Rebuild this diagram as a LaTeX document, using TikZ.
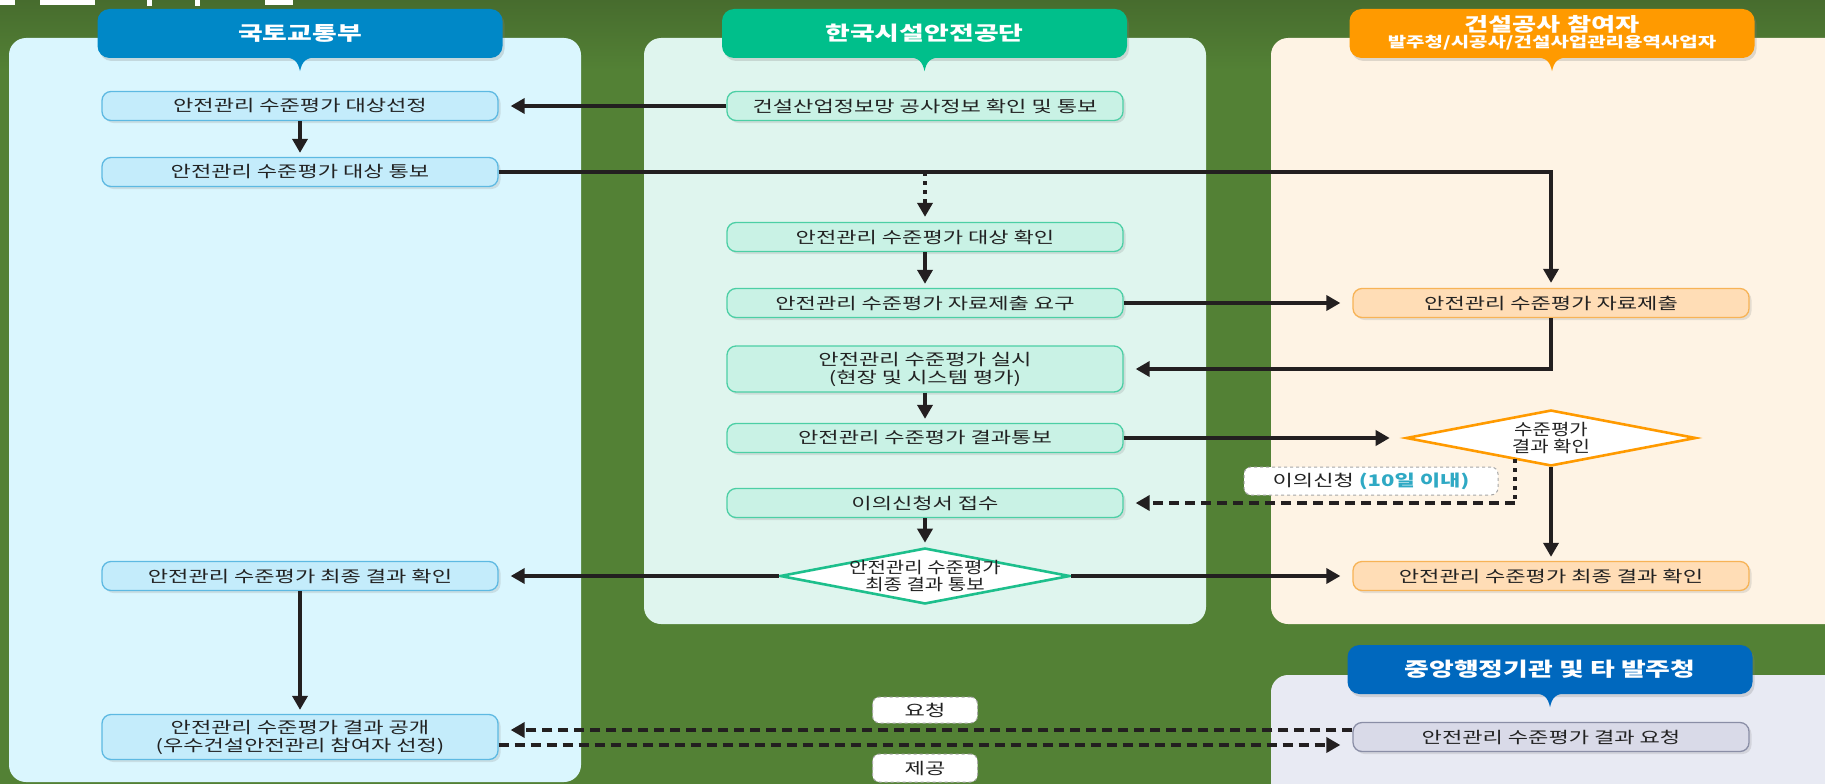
\documentclass[tikz,border=0pt]{standalone}
\usepackage{fontspec}
\setmainfont{Noto Sans CJK KR}[FakeStretch=1.38]
\newfontfamily\krn{Noto Sans CJK KR}[FakeStretch=1.25]
\usetikzlibrary{arrows.meta,shapes.geometric,shadows,calc}
\definecolor{bg}{HTML}{538135}
\definecolor{bgtop}{HTML}{476C2E}
\definecolor{pa}{HTML}{DAF6FE}
\definecolor{pafill}{HTML}{C4ECFB}
\definecolor{paline}{HTML}{5DB9E2}
\definecolor{ha}{HTML}{0088C7}
\definecolor{pb}{HTML}{DFF5EE}
\definecolor{pbfill}{HTML}{C9F2E5}
\definecolor{pbline}{HTML}{4CCFA5}
\definecolor{hb}{HTML}{00BF8B}
\definecolor{pc}{HTML}{FEF3E4}
\definecolor{pcfill}{HTML}{FFDDB6}
\definecolor{pcline}{HTML}{F7B356}
\definecolor{hc}{HTML}{FF9A00}
\definecolor{pd}{HTML}{E8EAF3}
\definecolor{pdfill}{HTML}{D9DAE8}
\definecolor{pdline}{HTML}{8A8EA6}
\definecolor{hd}{HTML}{0068BE}
\definecolor{dgreen}{HTML}{1DBF8C}
\definecolor{dorange}{HTML}{FF9A00}
\definecolor{tealtxt}{HTML}{2FA9C4}
\definecolor{arrc}{HTML}{231F20}
\definecolor{txt}{HTML}{222222}
\begin{document}
\begin{tikzpicture}[x=1pt,y=-1pt,
  box/.style={rounded corners=9pt, minimum width=396pt, minimum height=29pt, inner sep=0pt,
    line width=1.3pt, text=txt, align=center, font=\fontsize{16}{18}\selectfont,
    drop shadow={shadow xshift=2.5pt, shadow yshift=-2.5pt, opacity=0.2}},
  boxa/.style={box, fill=pafill, draw=paline},
  boxb/.style={box, fill=pbfill, draw=pbline},
  boxc/.style={box, fill=pcfill, draw=pcline},
  boxd/.style={box, fill=pdfill, draw=pdline},
  head/.style={rounded corners=12pt, minimum width=405pt, minimum height=49pt, inner sep=0pt,
    text=white, font=\bfseries\fontsize{19.5}{21}\selectfont,
    drop shadow={shadow xshift=2pt, shadow yshift=-3pt, opacity=0.25}},
  dia/.style={diamond, minimum width=290pt, minimum height=56pt, inner sep=0pt, line width=2.6pt, fill=white},
  diatext/.style={text=txt, align=center, font=\krn\fontsize{16}{16.5}\selectfont},
  tag/.style={rounded corners=7pt, fill=white, draw=gray!70, dashed, line width=1pt, inner sep=0pt,
    text=txt, font=\fontsize{16}{18}\selectfont},
  lnk/.style={draw=arrc, line width=3.6pt},
  arr/.style={lnk, -{Triangle[width=15pt,length=14pt]}},
  dasharr/.style={arr, dash pattern=on 10pt off 6pt},
  dotln/.style={lnk, dash pattern=on 4pt off 5pt}
]
\useasboundingbox (0,0) rectangle (1825,784);
\clip (0,0) rectangle (1825,784);
% background
\fill[bg] (0,0) rectangle (1825,784);
\shade[top color=bgtop, bottom color=bg] (0,0) rectangle (1825,70);
% cut-off white fragments at top-left
\fill[white] (0,0) rectangle (15,5);
\fill[white] (40,0) rectangle (95,5);
\fill[white] (147,0) rectangle (152,6);
\fill[white] (195,0) rectangle (200,6);
\fill[white] (265,0) rectangle (293,5);
% lane panels
\fill[pa, rounded corners=17pt] (9,38) rectangle (581,782);
\fill[pb, rounded corners=17pt] (644,38) rectangle (1206,624);
\fill[pc, rounded corners=17pt] (1271,38) rectangle (1880,624);
\fill[pd, rounded corners=17pt] (1271,675) rectangle (1880,840);
% headers
\node[head, fill=ha] (H1) at (300,33.5) {국토교통부};
\node[head, fill=hb] (H2) at (924.5,33.5) {한국시설안전공단};
\node[head, fill=hc] (H3) at (1552,33.5) {};
\node[head, fill=hd] (H4) at (1550,669.5) {중앙행정기관 및 타 발주청};
\foreach \h/\c in {H1/ha,H2/hb,H3/hc,H4/hd}{
  \fill[\c] ($(\h.south)+(-18,-1)$) .. controls ($(\h.south)+(-5,-1)$) and ($(\h.south)+(-2,4)$) .. ($(\h.south)+(0,13)$)
     .. controls ($(\h.south)+(2,4)$) and ($(\h.south)+(5,-1)$) .. ($(\h.south)+(18,-1)$) -- cycle;
}
\node[text=white, font=\bfseries\fontsize{19}{20}\selectfont] (H3a) at ($(H3.center)+(0,-9)$) {건설공사 참여자};
\node[text=white, font=\bfseries\fontsize{14.5}{15}\selectfont] (H3b) at ($(H3.center)+(0,9)$) {발주청/시공사/건설사업관리용역사업자};
% lane 1 boxes
\node[boxa] (A1) at (300,106) {안전관리 수준평가 대상선정};
\node[boxa] (A2) at (300,172) {안전관리 수준평가 대상 통보};
\node[boxa] (A3) at (300,576) {안전관리 수준평가 최종 결과 확인};
\node[boxa, minimum height=45pt] (A4) at (300,737) {안전관리 수준평가 결과 공개\\(우수건설안전관리 참여자 선정)};
% lane 2 boxes
\node[boxb] (B1) at (925,106) {건설산업정보망 공사정보 확인 및 통보};
\node[boxb] (B2) at (925,237) {안전관리 수준평가 대상 확인};
\node[boxb] (B3) at (925,303) {안전관리 수준평가 자료제출 요구};
\node[boxb, minimum height=46pt] (B4) at (925,369) {안전관리 수준평가 실시\\(현장 및 시스템 평가)};
\node[boxb] (B5) at (925,438) {안전관리 수준평가 결과통보};
\node[boxb] (B6) at (925,503) {이의신청서 접수};
\node[dia, draw=dgreen] (D1) at (925,576) {};
\node[diatext] (D1t) at (D1.center) {안전관리 수준평가\\최종 결과 통보};
% lane 3 boxes
\node[boxc] (C1) at (1551,303) {안전관리 수준평가 자료제출};
\node[dia, draw=dorange] (D2) at (1551,438) {};
\node[diatext] (D2t) at (D2.center) {수준평가\\결과 확인};
\node[boxc] (C2) at (1551,576) {안전관리 수준평가 최종 결과 확인};
% lane 4 box
\node[boxd] (E1) at (1551,737) {안전관리 수준평가 결과 요청};
% connectors
\draw[arr, shorten >=12pt] (B1.west) -- (A1.east);
\draw[arr, shorten >=4pt] (A1.south) -- (A2.north);
\draw[arr, shorten >=5pt] (A2.east) -| (C1.north);
\coordinate (ab) at (A2.east -| B2.north);
\draw[dotln, -{Triangle[width=15pt,length=14pt]}, shorten >=5pt] (ab) -- (B2.north);
\draw[arr, shorten >=4pt] (B2.south) -- (B3.north);
\draw[arr, shorten >=12pt] (B3.east) -- (C1.west);
\draw[arr, shorten >=12pt] (C1.south) |- (B4.east);
\draw[arr, shorten >=4pt] (B4.south) -- (B5.north);
\draw[arr, shorten >=15pt] (B5.east) -- (D2.west);
\coordinate (dq) at ($(D2.center)+(-36,21)$);
\coordinate (dc) at (dq |- B6.east);
\draw[dotln] (dq) -- (dc);
\draw[dasharr, shorten >=12pt] (dc) -- (B6.east);
\node[tag, minimum width=254pt, minimum height=28pt] (T1) at (1371,481) {이의신청 {\bfseries\color{tealtxt}(10일 이내)}};
\draw[arr, shorten >=4pt] (B6.south) -- (D1.north);
\draw[arr, shorten >=12pt] (D1.west) -- (A3.east);
\draw[arr, shorten >=12pt] (D1.east) -- (C2.west);
\draw[arr, shorten >=4pt] (D2.south) -- (C2.north);
\draw[arr, shorten >=4pt] (A3.south) -- (A4.north);
\coordinate (eu) at ($(E1.west)+(0,-7)$);
\coordinate (au) at (A4.east |- eu);
\coordinate (al) at ($(A4.east)+(0,8)$);
\coordinate (el) at (E1.west |- al);
\draw[dasharr, shorten >=12pt] (eu) -- (au);
\draw[dasharr, shorten >=12pt] (al) -- (el);
\node[tag, minimum width=105pt, minimum height=26pt] (Q) at (925,710) {요청};
\node[tag, minimum width=105pt, minimum height=28pt] (P) at (925,768) {제공};
\end{tikzpicture}
\end{document}
